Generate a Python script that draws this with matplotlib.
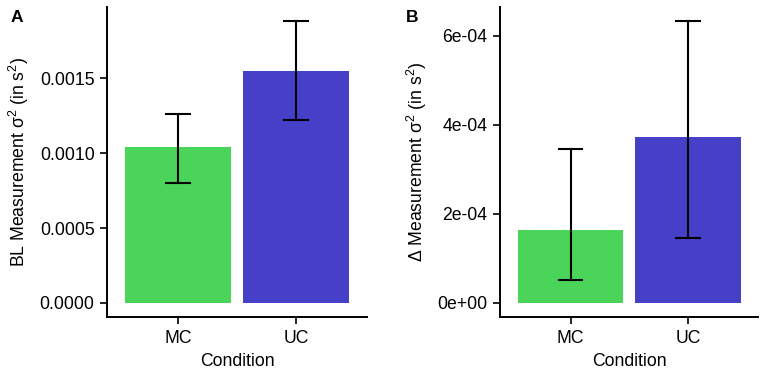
import numpy as np
import matplotlib
matplotlib.use("Agg")
import matplotlib.pyplot as plt

plt.rcParams['font.family'] = ['Liberation Sans', 'DejaVu Sans']
plt.rcParams['mathtext.fontset'] = 'custom'
plt.rcParams['mathtext.rm'] = 'Liberation Sans'
plt.rcParams['mathtext.it'] = 'Liberation Sans:italic'

conditions = ["MC", "UC"]
bar_colors = ["#4AD55A", "#4640C8"]

# panel A: baseline measurement variance
bl_mean = [0.001039, 0.001549]
bl_low = [0.000799, 0.001220]
bl_high = [0.001265, 0.001883]
bl_ticks = [0.0, 0.0005, 0.0010, 0.0015]
bl_ticklabels = ["0.0000", "0.0005", "0.0010", "0.0015"]

# panel B: change in measurement variance
d_mean = [1.647e-4, 3.715e-4]
d_low = [0.512e-4, 1.452e-4]
d_high = [3.451e-4, 6.324e-4]
d_ticks = [0.0, 2e-4, 4e-4, 6e-4]
d_ticklabels = ["0e+00", "2e-04", "4e-04", "6e-04"]

fig = plt.figure(figsize=(7.65, 3.74), dpi=100)
axA = fig.add_axes([0.1399, 0.1524, 0.3398, 0.8289])
axB = fig.add_axes([0.6536, 0.1524, 0.3379, 0.8289])


def panel(ax, mean, low, high, ticks, ticklabels, ylabel, letter, letter_x):
    x = np.arange(len(conditions)) + 1
    ax.bar(x, mean, width=0.9, color=bar_colors, zorder=1)
    for xi, lo, hi in zip(x, low, high):
        ax.plot([xi, xi], [lo, hi], color="black", lw=1.5, zorder=2)
        ax.plot([xi - 0.1, xi + 0.1], [lo, lo], color="black", lw=1.5, zorder=2)
        ax.plot([xi - 0.1, xi + 0.1], [hi, hi], color="black", lw=1.5, zorder=2)
    top = max(high)
    ax.set_ylim(-0.05 * top, 1.05 * top)
    ax.set_xlim(0.4, 2.6)
    ax.set_xticks(x)
    ax.set_xticklabels(conditions)
    ax.set_yticks(ticks)
    ax.set_yticklabels(ticklabels)
    for s in ["top", "right"]:
        ax.spines[s].set_visible(False)
    for s in ["left", "bottom"]:
        ax.spines[s].set_linewidth(1.4)
    ax.tick_params(axis="both", length=5, width=1.2, labelsize=12.7, colors="black", pad=4)
    ax.set_xlabel("Condition", fontsize=12.7, labelpad=5)
    ax.set_ylabel(ylabel, fontsize=12.7, labelpad=6)
    ax.text(letter_x, 0.99, letter, transform=ax.transAxes, fontsize=12.5,
            fontweight="bold", va="top", ha="left")


panel(axA, bl_mean, bl_low, bl_high, bl_ticks, bl_ticklabels,
      "BL Measurement σ$^2$ (in s$^2$)", "A", -0.373)
panel(axB, d_mean, d_low, d_high, d_ticks, d_ticklabels,
      "Δ Measurement σ$^2$ (in s$^2$)", "B", -0.364)

fig.savefig("out.png", dpi=100)
